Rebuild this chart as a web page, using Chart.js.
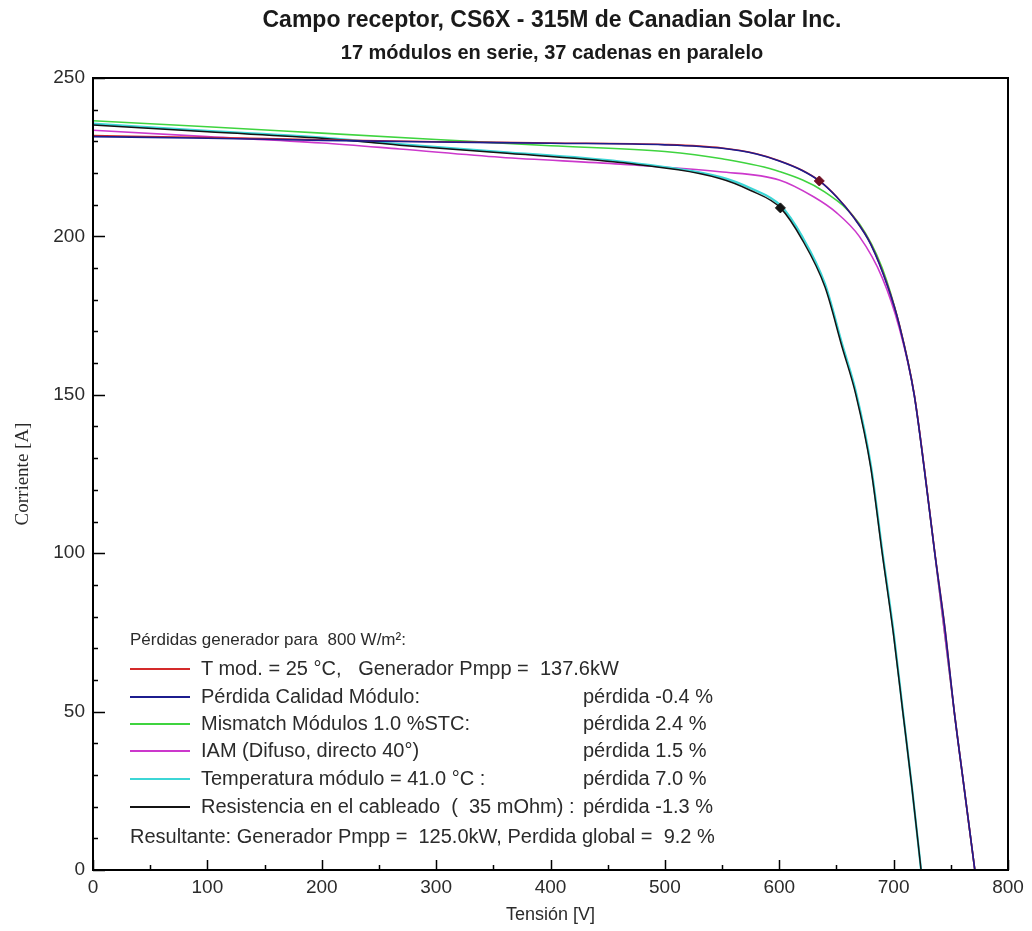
<!DOCTYPE html>
<html>
<head>
<meta charset="utf-8">
<title>Campo receptor, CS6X - 315M</title>
<script src="https://cdn.jsdelivr.net/npm/chart.js@4.4.0/dist/chart.umd.min.js"></script>
<style>
  html, body { margin: 0; padding: 0; background: #fff; }
  #wrap { position: relative; width: 1032px; height: 931px; overflow: hidden; }
  #chart { position: absolute; left: 0; top: 0; }
  .txt { position: absolute; font-family: "Liberation Sans", Arial, sans-serif; color: #2b2b2b; white-space: pre; }
  .head { left: 76px; width: 952px; text-align: center; font-weight: bold; color: #1a1a1a; }
  #title { top: 6px; font-size: 23px; }
  #subtitle { top: 41px; font-size: 20px; }
  .leg { font-size: 20px; line-height: 22px; }
  .leg.small { font-size: 17px; }
  .swatch { position: absolute; height: 0; width: 60px; border-top: 2px solid; }
</style>
</head>
<body>
<div id="wrap">
  <canvas id="chart" width="1032" height="931"></canvas>
  <div id="title" class="txt head">Campo receptor, CS6X - 315M de Canadian Solar Inc.</div>
  <div id="subtitle" class="txt head">17 módulos en serie, 37 cadenas en paralelo</div>
  <div id="legend"></div>
</div>
<script>
  // curvas I-V (V en voltios, I en amperios)
  const vRef = [0, 100, 200, 300, 400, 500, 550, 580, 600, 620, 635, 650, 665, 680, 695, 705, 718, 727, 736, 745, 753, 762, 771];
  const iTmod25 = [231.8, 231.2, 230.5, 229.9, 229.5, 229.0, 227.9, 226.1, 223.9, 220.9, 217.6, 212.6, 206.1, 197.6, 184.2, 172.2, 150.2, 126.2, 100.2, 76.0, 50.0, 25.0, 0];
  const iCalidad = [231.5, 231.0, 230.3, 229.8, 229.4, 228.9, 227.8, 226.0, 223.8, 220.8, 217.5, 212.5, 206.0, 197.5, 184.0, 172.0, 150.0, 126.0, 100.0, 75.8, 50.0, 25.0, 0];

  const vMismatch = [0, 100, 200, 300, 400, 500, 550, 600, 640, 670, 690, 705, 718, 736, 753, 771];
  const iMismatch = [236.5, 234.6, 232.6, 230.6, 228.6, 226.8, 224.5, 220.5, 214.0, 204.0, 190.0, 172.0, 150.0, 100.0, 50.0, 0];

  const vIam = [0, 100, 200, 268, 356, 461, 548, 600, 630, 650, 670, 690, 705, 718, 736, 753, 771];
  const iIam = [233.5, 231.5, 229.5, 227.6, 225.0, 222.8, 220.4, 217.8, 212.5, 207.5, 200.0, 187.0, 171.0, 150.0, 100.0, 50.0, 0];

  const vTemp = [0, 100, 200, 268, 356, 461, 548, 575, 601, 620, 640, 655, 667, 680, 690, 700, 708, 716, 724];
  const iTemp = [235.6, 233.3, 231.2, 229.1, 226.7, 223.6, 218.8, 215.2, 209.8, 200.0, 185.0, 166.0, 151.0, 128.0, 101.0, 75.0, 50.5, 26.2, 0];
  const iCableado = [235.2, 233.0, 231.0, 228.8, 226.4, 223.3, 218.3, 214.5, 209.0, 199.0, 184.0, 165.0, 150.0, 127.0, 100.0, 74.0, 50.0, 26.0, 0];

  // puntos de maxima potencia
  const mppV = [635, 601];
  const mppI = [217.5, 209.0];

  const xTicks = [0, 100, 200, 300, 400, 500, 600, 700, 800];
  const yTicks = [0, 50, 100, 150, 200, 250];

  const legendHeader = 'Pérdidas generador para  800 W/m²:';
  const legendLabels = [
    'T mod. = 25 °C,   Generador Pmpp =  137.6kW',
    'Pérdida Calidad Módulo:',
    'Mismatch Módulos 1.0 %STC:',
    'IAM (Difuso, directo 40°)',
    'Temperatura módulo = 41.0 °C :',
    'Resistencia en el cableado  (  35 mOhm) :'
  ];
  const legendLosses = ['', 'pérdida -0.4 %', 'pérdida 2.4 %', 'pérdida 1.5 %', 'pérdida 7.0 %', 'pérdida -1.3 %'];
  const legendFooter = 'Resultante: Generador Pmpp =  125.0kW, Perdida global =  9.2 %';

  const colors = {
    red: '#d42a2a',
    blue: '#1c1c8e',
    green: '#3fd43f',
    magenta: '#cc38cc',
    cyan: '#3cd6d6',
    black: '#141414',
    text: '#2b2b2b',
    mppRed: '#6e1024'
  };
  const legendColors = [colors.red, colors.blue, colors.green, colors.magenta, colors.cyan, colors.black];
  const sans = '"Liberation Sans", Arial, sans-serif';

  const toPoints = (xs, ys) => xs.map((x, i) => ({ x, y: ys[i] }));

  function curve(label, xs, ys, color, width, order) {
    return {
      label,
      data: toPoints(xs, ys),
      showLine: true,
      borderColor: color,
      backgroundColor: color,
      borderWidth: width,
      pointRadius: 0,
      cubicInterpolationMode: 'monotone',
      order
    };
  }

  // marco y ticks hacia dentro, como en el original
  const framePlugin = {
    id: 'frame',
    afterDatasetsDraw(chart) {
      const { ctx, chartArea: a, scales } = chart;
      ctx.save();
      ctx.strokeStyle = '#000';
      ctx.lineWidth = 2;
      ctx.strokeRect(a.left, a.top, a.right - a.left, a.bottom - a.top);
      ctx.lineWidth = 1.5;
      ctx.beginPath();
      for (let v = 0; v <= 250; v += 10) {
        const y = Math.round(scales.y.getPixelForValue(v)) + 0.5;
        const len = v % 50 === 0 ? 12 : 5;
        ctx.moveTo(a.left, y);
        ctx.lineTo(a.left + len, y);
      }
      for (let v = 0; v <= 800; v += 50) {
        const x = Math.round(scales.x.getPixelForValue(v)) + 0.5;
        const len = v % 100 === 0 ? 10 : 5;
        ctx.moveTo(x, a.bottom);
        ctx.lineTo(x, a.bottom - len);
      }
      ctx.stroke();
      ctx.restore();
    }
  };

  const chart = new Chart(document.getElementById('chart'), {
    type: 'scatter',
    data: {
      datasets: [
        {
          label: 'MPP',
          data: toPoints(mppV, mppI),
          pointStyle: 'rectRot',
          pointRadius: 5,
          backgroundColor: [colors.mppRed, colors.black],
          borderColor: [colors.mppRed, colors.black],
          order: 0
        },
        curve('Pérdida Calidad Módulo', vRef, iCalidad, colors.blue, 1.6, 1),
        curve('T mod. = 25 °C', vRef, iTmod25, colors.red, 1.6, 2),
        curve('Resistencia en el cableado', vTemp, iCableado, colors.black, 1.5, 3),
        curve('Temperatura módulo', vTemp, iTemp, colors.cyan, 2.2, 4),
        curve('IAM', vIam, iIam, colors.magenta, 1.6, 5),
        curve('Mismatch Módulos', vMismatch, iMismatch, colors.green, 1.6, 6)
      ]
    },
    options: {
      responsive: false,
      animation: false,
      layout: { padding: { top: 78, right: 24, bottom: 0, left: 0 } },
      plugins: {
        legend: { display: false },
        tooltip: { enabled: false }
      },
      scales: {
        x: {
          type: 'linear',
          min: 0,
          max: 800,
          afterFit: (scale) => { scale.height = 61; },
          afterBuildTicks: (scale) => { scale.ticks = xTicks.map((value) => ({ value })); },
          grid: { drawOnChartArea: false, drawTicks: false },
          border: { display: false },
          ticks: {
            color: colors.text,
            padding: 6,
            maxRotation: 0,
            font: { family: sans, size: 19 }
          },
          title: {
            display: true,
            text: 'Tensión [V]',
            color: colors.text,
            padding: { top: 0, bottom: 5 },
            font: { family: sans, size: 18 }
          }
        },
        y: {
          type: 'linear',
          min: 0,
          max: 250,
          afterFit: (scale) => { scale.width = 93; },
          afterBuildTicks: (scale) => { scale.ticks = yTicks.map((value) => ({ value })); },
          grid: { drawOnChartArea: false, drawTicks: false },
          border: { display: false },
          ticks: {
            color: colors.text,
            padding: 8,
            font: { family: sans, size: 19 }
          },
          title: {
            display: true,
            text: 'Corriente [A]',
            color: colors.text,
            padding: { top: 12, bottom: 0 },
            font: { family: '"Liberation Serif", "Times New Roman", serif', size: 19 }
          }
        }
      }
    },
    plugins: [framePlugin]
  });

  // leyenda como texto HTML dentro del area del grafico
  function buildLegend() {
    const box = document.getElementById('legend');
    const rowTop = [657, 685, 712, 739, 767, 795];
    const add = (text, left, top, cls) => {
      const el = document.createElement('div');
      el.className = 'txt leg' + (cls ? ' ' + cls : '');
      el.textContent = text;
      el.style.left = left + 'px';
      el.style.top = top + 'px';
      box.appendChild(el);
    };
    add(legendHeader, 130, 629, 'small');
    legendLabels.forEach((label, i) => {
      const sw = document.createElement('div');
      sw.className = 'swatch';
      sw.style.left = '130px';
      sw.style.top = (rowTop[i] + 11) + 'px';
      sw.style.borderTopColor = legendColors[i];
      box.appendChild(sw);
      add(label, 201, rowTop[i]);
      if (legendLosses[i]) add(legendLosses[i], 583, rowTop[i]);
    });
    add(legendFooter, 130, 825);
  }
  buildLegend();
</script>
</body>
</html>
